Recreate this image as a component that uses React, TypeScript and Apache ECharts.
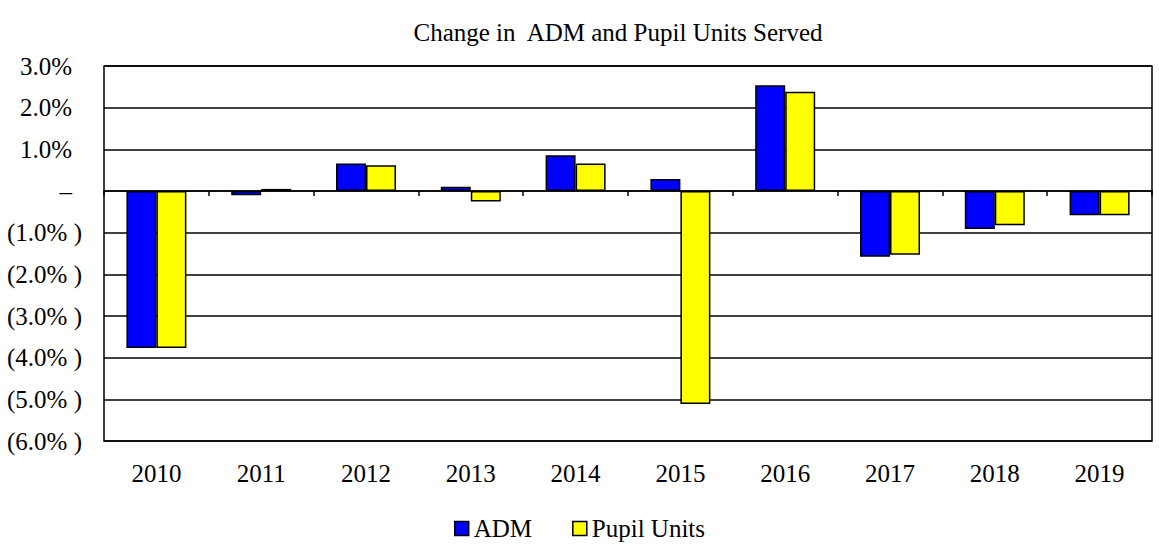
import React, { useEffect, useRef } from "react";
import * as echarts from "echarts";

const years = ["2010", "2011", "2012", "2013", "2014", "2015", "2016", "2017", "2018", "2019"];
const admValues = [-3.77, -0.1, 0.66, 0.1, 0.86, 0.29, 2.54, -1.58, -0.91, -0.58];
const pupilValues = [-3.77, 0.05, 0.62, -0.25, 0.66, -5.11, 2.38, -1.53, -0.82, -0.58];
const titleText = "Change in  ADM and Pupil Units Served";

const fmt = (v: number) => {
  if (Math.abs(v) < 1e-9) return "{p|–}";
  if (v < 0) return "{n|(" + Math.abs(v).toFixed(1) + "% )}";
  return "{p|" + v.toFixed(1) + "%}";
};

export default function App() {
  const ref = useRef<HTMLDivElement>(null);
  useEffect(() => {
    if (!ref.current) return;
    const chart = echarts.init(ref.current, undefined, { renderer: "svg" });
    const font = "Times New Roman, Liberation Serif, DejaVu Serif, serif";
    const fs = 25;
    chart.setOption({
      animation: false,
      backgroundColor: "#ffffff",
      textStyle: { fontFamily: font, color: "#000" },
      title: {
        text: titleText,
        left: 613,
        textAlign: "center",
        top: 15,
        textStyle: { fontFamily: font, fontSize: fs, fontWeight: "normal", color: "#000" },
      },
      legend: {
        bottom: 0,
        left: "center",
        itemWidth: 14,
        itemHeight: 14,
        itemGap: 40,
        icon: "rect",
        itemStyle: { borderColor: "#000", borderWidth: 1.5 },
        textStyle: { fontFamily: font, fontSize: fs, color: "#000" },
        data: ["ADM", "Pupil Units"],
      },
      grid: {
        left: 104,
        right: 7,
        top: 66,
        bottom: 105,
        show: true,
        borderColor: "#000",
        borderWidth: 1.5,
      },
      xAxis: [
        {
          type: "category",
          data: years,
          position: "bottom",
          axisLine: { show: false, onZero: false },
          axisTick: { show: false },
          axisLabel: { fontFamily: font, fontSize: fs, color: "#000", margin: 20 },
        },
        {
          type: "category",
          data: years,
          position: "bottom",
          axisLine: { show: true, onZero: true, lineStyle: { color: "#000", width: 1.5 } },
          axisTick: { show: true, length: 5, lineStyle: { color: "#000", width: 1.5 } },
          axisLabel: { show: false },
        },
      ],
      yAxis: {
        type: "value",
        min: -6,
        max: 3,
        interval: 1,
        axisLine: { show: false },
        axisTick: { show: false },
        splitLine: { show: true, lineStyle: { color: "#000", width: 1.5 } },
        axisLabel: {
          fontFamily: font,
          fontSize: fs,
          color: "#000",
          margin: 22,
          formatter: (v: number) => fmt(v),
          rich: {
            p: { fontFamily: font, fontSize: fs, color: "#000", padding: [0, 10, 0, 0] },
            n: { fontFamily: font, fontSize: fs, color: "#000" },
          },
        },
      },
      series: [
        {
          name: "ADM",
          type: "bar",
          xAxisIndex: 0,
          data: admValues,
          barWidth: 30,
          barGap: "0%",
          itemStyle: { color: "#0000ff", borderColor: "#000", borderWidth: 1.5 },
        },
        {
          name: "Pupil Units",
          type: "bar",
          xAxisIndex: 0,
          data: pupilValues,
          barWidth: 30,
          barGap: "0%",
          itemStyle: { color: "#ffff00", borderColor: "#000", borderWidth: 1.5 },
        },
      ],
    });
    return () => chart.dispose();
  }, []);
  return (
    <div
      ref={ref}
      style={{ position: "fixed", left: 0, top: 0, width: 1159, height: 546, background: "#fff" }}
    />
  );
}
